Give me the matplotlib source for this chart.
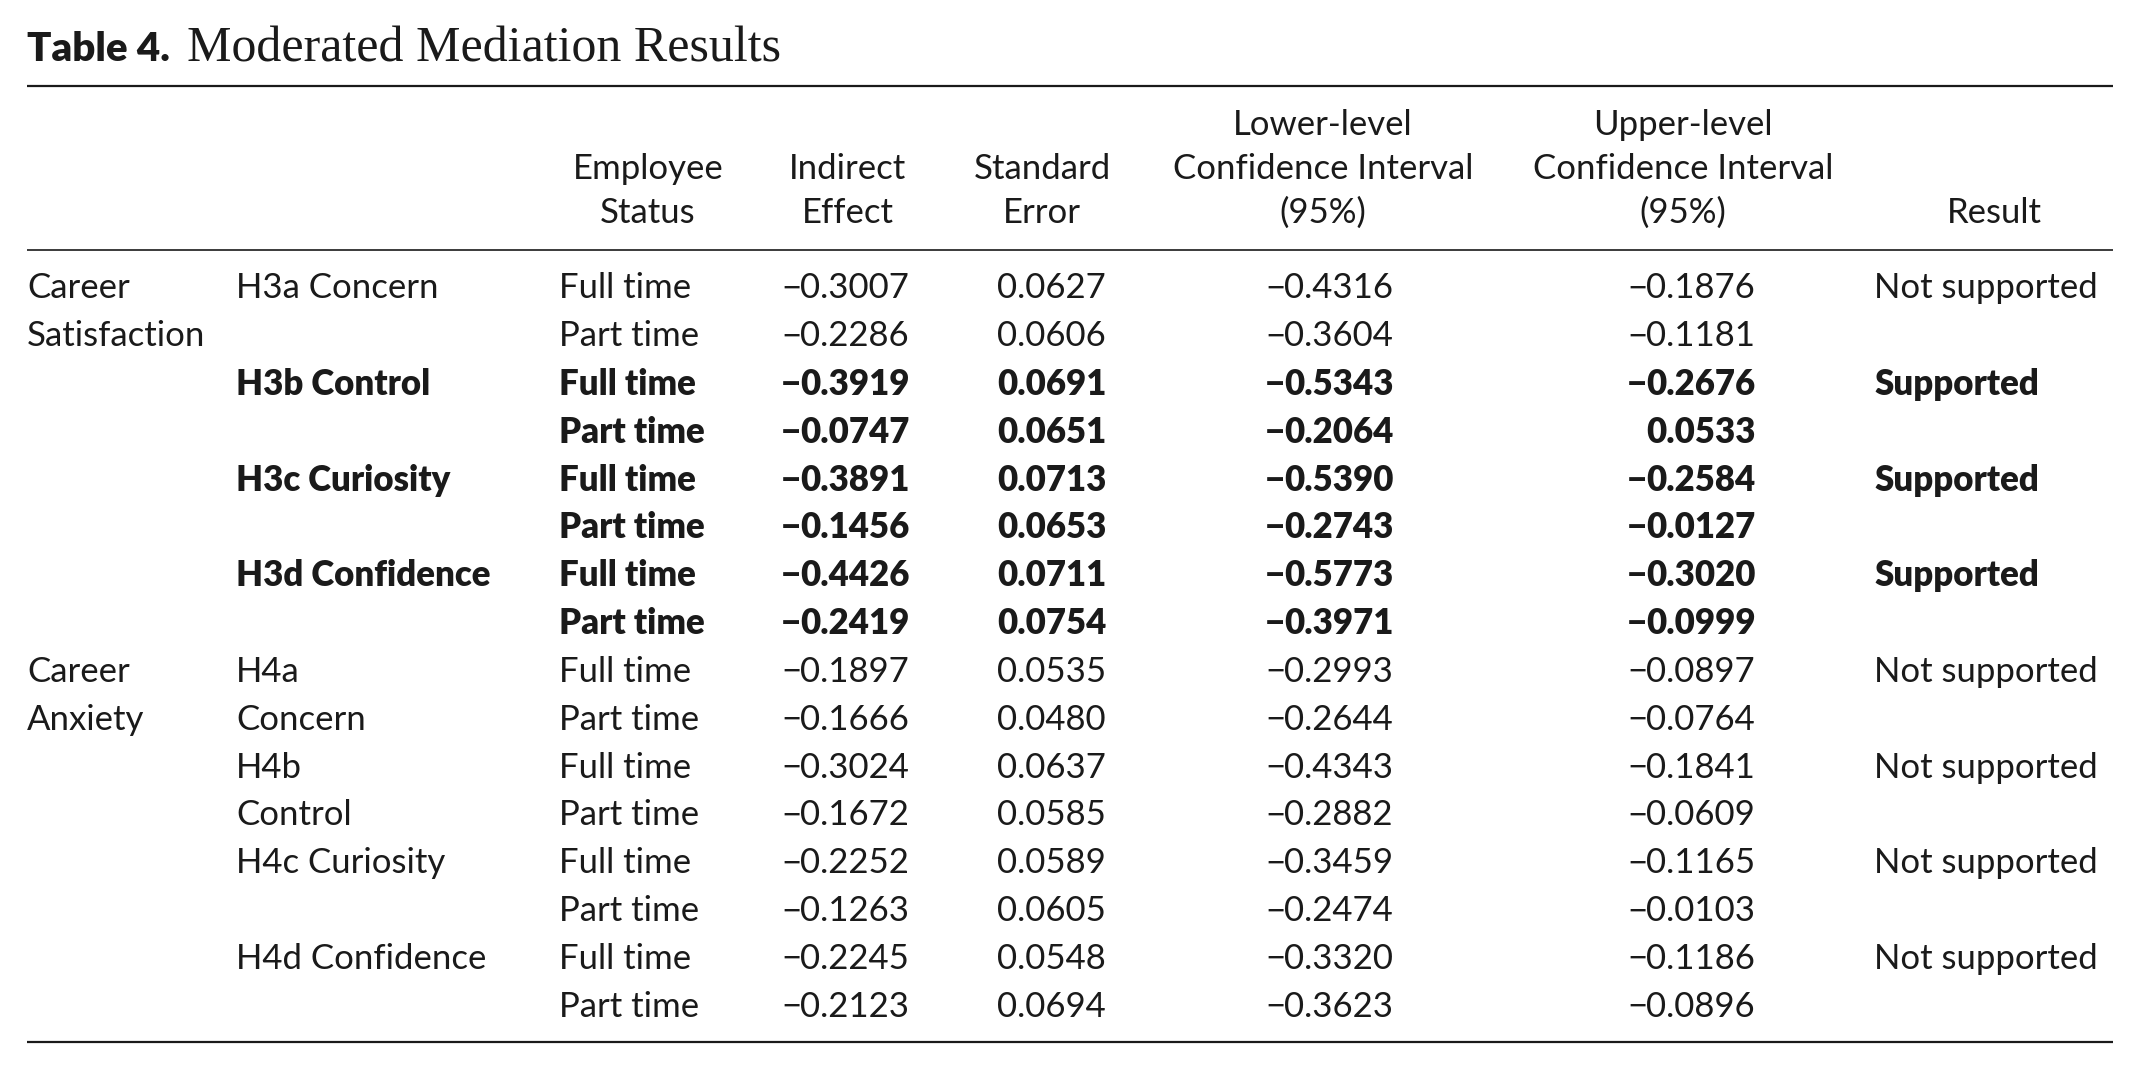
import matplotlib
matplotlib.use("Agg")
import matplotlib.pyplot as plt

# table content
outcome_lines = ["Career", "Satisfaction", "", "", "", "", "", "",
                 "Career", "Anxiety", "", "", "", "", "", ""]
hyp_lines = ["H3a Concern", "", "H3b Control", "", "H3c Curiosity", "", "H3d Confidence", "",
             "H4a", "Concern", "H4b", "Control", "H4c Curiosity", "", "H4d Confidence", ""]
status = ["Full time", "Part time"] * 8
indirect = [-0.3007, -0.2286, -0.3919, -0.0747, -0.3891, -0.1456, -0.4426, -0.2419,
            -0.1897, -0.1666, -0.3024, -0.1672, -0.2252, -0.1263, -0.2245, -0.2123]
std_err = [0.0627, 0.0606, 0.0691, 0.0651, 0.0713, 0.0653, 0.0711, 0.0754,
           0.0535, 0.0480, 0.0637, 0.0585, 0.0589, 0.0605, 0.0548, 0.0694]
lower_ci = [-0.4316, -0.3604, -0.5343, -0.2064, -0.5390, -0.2743, -0.5773, -0.3971,
            -0.2993, -0.2644, -0.4343, -0.2882, -0.3459, -0.2474, -0.3320, -0.3623]
upper_ci = [-0.1876, -0.1181, -0.2676, 0.0533, -0.2584, -0.0127, -0.3020, -0.0999,
            -0.0897, -0.0764, -0.1841, -0.0609, -0.1165, -0.0103, -0.1186, -0.0896]
result = ["Not supported", "", "Supported", "", "Supported", "", "Supported", "",
          "Not supported", "", "Not supported", "", "Not supported", "", "Not supported", ""]
bold_row = [False, False, True, True, True, True, True, True,
            False, False, False, False, False, False, False, False]

headers = [("Employee\nStatus", 648), ("Indirect\nEffect", 848), ("Standard\nError", 1042),
           ("Lower-level\nConfidence Interval\n(95%)", 1323),
           ("Upper-level\nConfidence Interval\n(95%)", 1683), ("Result", 1994)]

W, H = 2139, 1069
fig = plt.figure(figsize=(W / 100, H / 100), dpi=100)
ax = fig.add_axes([0, 0, 1, 1])
ax.set_xlim(0, W)
ax.set_ylim(H, 0)
ax.axis("off")

ink = "#1a1a1a"
sans = "Lato"
fs = 25
heavy = 800

# title
ax.text(27, 61, "Table 4.", fontfamily=sans, fontweight=heavy, fontsize=29, color=ink, va="baseline")
ax.text(187, 61, "Moderated Mediation Results", fontfamily="Liberation Serif", fontsize=36, color=ink, va="baseline")

# rules
ax.hlines(86, 27, 2113, color=ink, lw=1.6)
ax.hlines(250, 27, 2113, color=ink, lw=1.2)
ax.hlines(1042, 27, 2113, color=ink, lw=1.6)

# header, bottom-aligned to the third line
line_gap = 44
for label, xc in headers:
    parts = label.split("\n")
    for k, p in enumerate(parts):
        y = 213 - (len(parts) - 1 - k) * line_gap
        ax.text(xc, y, p, fontfamily=sans, fontsize=fs, color=ink, ha="center", va="center")


def num(x, y, v, w):
    s = f"{abs(v):.4f}"
    ax.text(x, y, s, fontfamily=sans, fontsize=fs, fontweight=w, color=ink, ha="left", va="center")
    if v < 0:
        ax.text(x + 1, y, "\u2212", fontfamily=sans, fontsize=fs, fontweight=w, color=ink, ha="right", va="center")


row0, step = 288.5, 47.9
for i in range(len(status)):
    y = row0 + i * step
    w = heavy if bold_row[i] else "normal"
    ax.text(27, y, outcome_lines[i], fontfamily=sans, fontsize=fs, color=ink, va="center")
    ax.text(236, y, hyp_lines[i], fontfamily=sans, fontsize=fs, fontweight=w, color=ink, va="center")
    ax.text(559, y, status[i], fontfamily=sans, fontsize=fs, fontweight=w, color=ink, va="center")
    num(800, y, indirect[i], w)
    num(997, y, std_err[i], w)
    num(1284, y, lower_ci[i], w)
    num(1646, y, upper_ci[i], w)
    ax.text(1874, y, result[i], fontfamily=sans, fontsize=fs, fontweight=w, color=ink, va="center")

fig.savefig("out.png", dpi=100, facecolor="white")
